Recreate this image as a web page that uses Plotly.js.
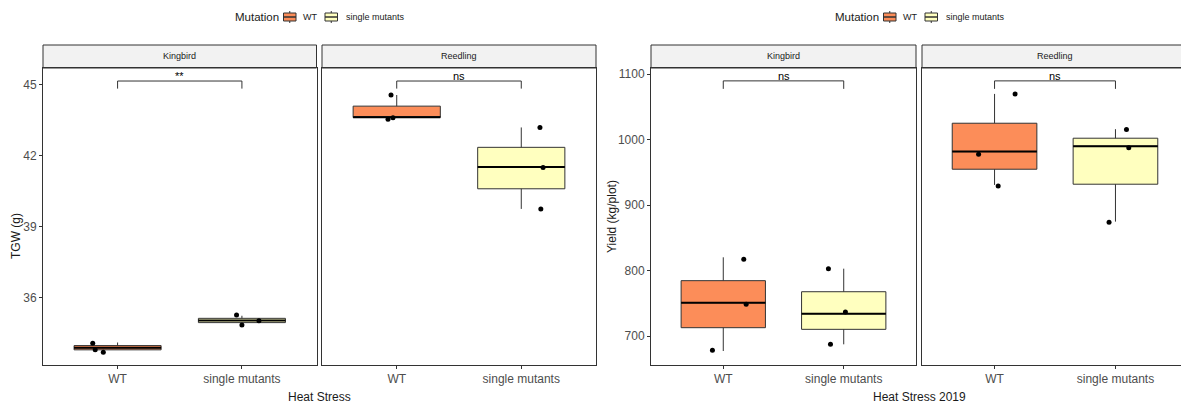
<!DOCTYPE html>
<html>
<head>
<meta charset="utf-8">
<script src="https://cdn.plot.ly/plotly-3.0.1.min.js"></script>
<style>html,body{margin:0;padding:0;background:#fff;}#chart{width:1181px;height:407px;}</style>
</head>
<body>
<div id="chart"></div>
<script>
// ---------- data ----------
const categories = ['WT', 'single mutants'];
const varieties = ['Kingbird', 'Reedling'];
const mutationNames = ['WT', 'single mutants'];

// TGW (g) – Heat Stress : individual points
const tgw_kingbird_WT = [34.08, 33.80, 33.70];
const tgw_kingbird_single = [35.27, 35.03, 34.85];
const tgw_reedling_WT = [44.56, 43.54, 43.60];
const tgw_reedling_single = [43.19, 41.50, 39.75];
// horizontal jitter of the points (category units)
const tgw_kingbird_WT_jit = [-0.20, -0.18, -0.115];
const tgw_kingbird_single_jit = [-0.043, 0.137, 0.0];
const tgw_reedling_WT_jit = [-0.046, -0.07, -0.03];
const tgw_reedling_single_jit = [0.15, 0.175, 0.157];
// box statistics [lower, q1, median, q3, upper]
const tgw_kingbird_WT_box = [33.80, 33.80, 33.89, 33.98, 34.11];
const tgw_kingbird_single_box = [34.95, 34.95, 35.04, 35.13, 35.24];
const tgw_reedling_WT_box = [43.60, 43.61, 43.62, 44.09, 44.56];
const tgw_reedling_single_box = [39.75, 40.60, 41.52, 42.35, 43.19];
const tgw_signif = ['**', 'ns'];
const tgw_bracket = [45.15, 44.83]; // top, tick end

// Yield (kg/plot) – Heat Stress 2019
const yield_kingbird_WT = [817.3, 748.5, 678.1];
const yield_kingbird_single = [802.9, 736.7, 687.3];
const yield_reedling_WT = [1070, 977.8, 929.4];
const yield_reedling_single = [1015.7, 987.9, 873.9];
const yield_kingbird_WT_jit = [0.17, 0.19, -0.09];
const yield_kingbird_single_jit = [-0.127, 0.014, -0.11];
const yield_reedling_WT_jit = [0.17, -0.132, 0.03];
const yield_reedling_single_jit = [0.091, 0.11, -0.053];
const yield_kingbird_WT_box = [677.1, 712.7, 750.9, 784.6, 820.3];
const yield_kingbird_single_box = [687.3, 710.2, 734.1, 767.7, 802.9];
const yield_reedling_WT_box = [930.9, 954.9, 981.8, 1025.2, 1070.0];
const yield_reedling_single_box = [874.8, 932.0, 990.1, 1002.3, 1016.1];
const yield_signif = ['ns', 'ns'];
const yield_bracket = [1089.9, 1077.7];

// ---------- styling ----------
const FONT = 'Liberation Sans Narrow, Arial Narrow, Liberation Sans, Arial, sans-serif';
const fills = ['#FC8D59', '#FFFFBF'];
const LINE = '#333333';
const BOXW = 0.7;

const traces = [];
function panel(xa, ya, groups, boxes, jits) {
  groups.forEach((vals, i) => {
    const b = boxes[i];
    traces.push({
      type: 'box', x: [i], lowerfence: [b[0]], q1: [b[1]], median: [b[2]], q3: [b[3]], upperfence: [b[4]],
      xaxis: xa, yaxis: ya, name: mutationNames[i], showlegend: false, boxpoints: false,
      width: BOXW, whiskerwidth: 0, fillcolor: fills[i],
      line: { color: LINE, width: 1 }, hoverinfo: 'skip'
    });
    traces.push({
      type: 'scatter', mode: 'lines', x: [i - BOXW / 2, i + BOXW / 2], y: [b[2], b[2]],
      xaxis: xa, yaxis: ya, showlegend: false, hoverinfo: 'skip',
      line: { color: '#000000', width: 2 }
    });
    traces.push({
      type: 'scatter', mode: 'markers', x: vals.map((v, k) => i + jits[i][k]), y: vals,
      xaxis: xa, yaxis: ya, showlegend: false, hoverinfo: 'skip',
      marker: { color: '#000000', size: 5 }
    });
  });
}
function bracket(xa, ya, br, label, annots) {
  traces.push({
    type: 'scatter', mode: 'lines', x: [0, 0, 1, 1], y: [br[1], br[0], br[0], br[1]],
    xaxis: xa, yaxis: ya, showlegend: false, hoverinfo: 'skip',
    line: { color: LINE, width: 1 }
  });
  annots.push({ xref: xa, yref: ya, x: 0.5, y: br[0], yanchor: 'bottom', text: label, showarrow: false,
    font: { family: FONT, size: 11, color: '#000' }, yshift: -3 });
}

const annotations = [];
panel('x', 'y', [tgw_kingbird_WT, tgw_kingbird_single], [tgw_kingbird_WT_box, tgw_kingbird_single_box], [tgw_kingbird_WT_jit, tgw_kingbird_single_jit]);
panel('x2', 'y2', [tgw_reedling_WT, tgw_reedling_single], [tgw_reedling_WT_box, tgw_reedling_single_box], [tgw_reedling_WT_jit, tgw_reedling_single_jit]);
panel('x3', 'y3', [yield_kingbird_WT, yield_kingbird_single], [yield_kingbird_WT_box, yield_kingbird_single_box], [yield_kingbird_WT_jit, yield_kingbird_single_jit]);
panel('x4', 'y4', [yield_reedling_WT, yield_reedling_single], [yield_reedling_WT_box, yield_reedling_single_box], [yield_reedling_WT_jit, yield_reedling_single_jit]);
bracket('x', 'y', tgw_bracket, tgw_signif[0], annotations);
bracket('x2', 'y2', tgw_bracket, tgw_signif[1], annotations);
bracket('x3', 'y3', yield_bracket, yield_signif[0], annotations);
bracket('x4', 'y4', yield_bracket, yield_signif[1], annotations);

// ---------- layout ----------
const W = 1181, H = 407;
const dom = [[43, 316.5], [322, 596], [651, 916], [922, 1181]];
const yTop = 68, yBot = 365, stripTop = 45;
const ydom = [1 - yBot / H, 1 - yTop / H];

function xax(d, range) {
  return {
    domain: [d[0] / W, d[1] / W], range: range, tickmode: 'array', tickvals: [0, 1], ticktext: categories,
    ticks: 'outside', ticklen: 3, tickcolor: LINE, showline: true, mirror: true, linecolor: LINE, linewidth: 1,
    showgrid: false, zeroline: false, fixedrange: true,
    tickfont: { family: FONT, size: 12, color: '#4D4D4D' }
  };
}
function yax(anchor, range, showTicks, mirror, dtick) {
  return {
    domain: ydom, anchor: anchor, range: range, tickmode: 'linear', tick0: 0, dtick: dtick,
    ticks: showTicks ? 'outside' : '', ticklen: 3, tickcolor: LINE, showticklabels: showTicks,
    showline: true, mirror: mirror, linecolor: LINE, linewidth: 1, showgrid: false, zeroline: false, fixedrange: true,
    tickfont: { family: FONT, size: 12, color: '#4D4D4D' }
  };
}

const shapes = [];
dom.forEach((d, i) => {
  shapes.push({ type: 'rect', xref: 'paper', yref: 'paper', x0: d[0] / W, x1: (i === 3 ? 1.02 : d[1] / W),
    y0: 1 - yTop / H, y1: 1 - stripTop / H, fillcolor: '#F2F2F2', line: { color: LINE, width: 1 }, layer: 'below' });
  annotations.push({ xref: 'paper', yref: 'paper', x: (i === 3 ? (d[0] + 266 / 2) : (d[0] + d[1]) / 2) / W,
    y: 1 - (yTop + stripTop) / 2 / H, text: varieties[i % 2], showarrow: false,
    font: { family: FONT, size: 9, color: '#1A1A1A' }, xanchor: 'center', yanchor: 'middle' });
});

const TFONT = 'Liberation Sans, Arial, sans-serif';
annotations.push({ xref: 'paper', yref: 'paper', x: 16 / W, y: 1 - 236 / H, text: 'TGW (g)', textangle: -90,
  xanchor: 'center', yanchor: 'middle', showarrow: false, font: { family: TFONT, size: 12, color: '#1A1A1A' } });
annotations.push({ xref: 'paper', yref: 'paper', x: 612 / W, y: 1 - 217 / H, text: 'Yield (kg/plot)', textangle: -90,
  xanchor: 'center', yanchor: 'middle', showarrow: false, font: { family: TFONT, size: 12, color: '#1A1A1A' } });
annotations.push({ xref: 'paper', yref: 'paper', x: 319 / W, y: 1 - 397 / H, text: 'Heat Stress', yanchor: 'middle',
  xanchor: 'center', showarrow: false, font: { family: FONT, size: 12, color: '#1A1A1A' } });
annotations.push({ xref: 'paper', yref: 'paper', x: 919 / W, y: 1 - 397 / H, text: 'Heat Stress 2019', yanchor: 'middle',
  xanchor: 'center', showarrow: false, font: { family: FONT, size: 12, color: '#1A1A1A' } });

// ---------- manual legends (ggplot-style keys) ----------
function legend(x0) {
  const P = v => 1 - v / H;
  annotations.push({ xref: 'paper', yref: 'paper', x: x0 / W, y: P(17), xanchor: 'left', yanchor: 'middle',
    text: 'Mutation', showarrow: false, font: { family: FONT, size: 11.5, color: '#1A1A1A' } });
  const keys = [[x0 + 50.5, x0 + 63], [x0 + 92, x0 + 104.5]];
  const labs = [x0 + 67.5, x0 + 110.5];
  keys.forEach((k, i) => {
    const cx = (k[0] + k[1]) / 2;
    shapes.push({ type: 'rect', xref: 'paper', yref: 'paper', x0: k[0] / W, x1: k[1] / W, y0: P(21), y1: P(13),
      fillcolor: fills[i], line: { color: LINE, width: 1 } });
    shapes.push({ type: 'line', xref: 'paper', yref: 'paper', x0: k[0] / W, x1: k[1] / W, y0: P(17), y1: P(17),
      line: { color: LINE, width: 1.5 } });
    shapes.push({ type: 'line', xref: 'paper', yref: 'paper', x0: cx / W, x1: cx / W, y0: P(13), y1: P(11),
      line: { color: LINE, width: 1 } });
    shapes.push({ type: 'line', xref: 'paper', yref: 'paper', x0: cx / W, x1: cx / W, y0: P(21), y1: P(23),
      line: { color: LINE, width: 1 } });
    annotations.push({ xref: 'paper', yref: 'paper', x: labs[i] / W, y: P(17), xanchor: 'left', yanchor: 'middle',
      text: mutationNames[i], showarrow: false, font: { family: FONT, size: 9, color: '#1A1A1A' } });
  });
}
legend(233);
legend(833);

const layout = {
  width: W, height: H, margin: { l: 0, r: 0, t: 0, b: 0 },
  paper_bgcolor: '#FFFFFF', plot_bgcolor: '#FFFFFF', boxmode: 'overlay', showlegend: false,
  xaxis: xax(dom[0], [-0.6, 1.6]),
  xaxis2: xax(dom[1], [-0.6, 1.6]),
  xaxis3: xax(dom[2], [-0.6, 1.6]),
  xaxis4: xax(dom[3], [-0.6, 1.542]),
  yaxis: yax('x', [33.16, 45.70], true, true, 3),
  yaxis2: yax('x2', [33.16, 45.70], false, true, 3),
  yaxis3: yax('x3', [655.7, 1109.6], true, true, 100),
  yaxis4: yax('x4', [655.7, 1109.6], false, false, 100),
  shapes: shapes, annotations: annotations
};

Plotly.newPlot('chart', traces, layout, { staticPlot: true, displayModeBar: false });
</script>
</body>
</html>
